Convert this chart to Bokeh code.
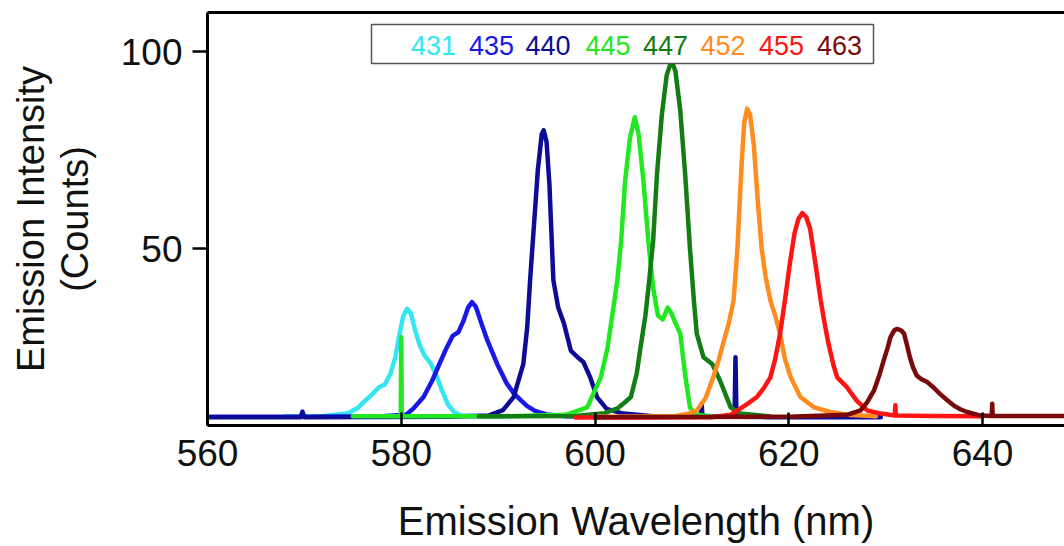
from bokeh.plotting import figure
from bokeh.models import Range1d, LinearAxis, FixedTicker
from bokeh.core.properties import value
from bokeh.embed import file_html
from bokeh.resources import INLINE

# ---------------- data ----------------
labels = ["431", "435", "440", "445", "447", "452", "455", "463"]
colors = ["#33E6F2", "#1818E8", "#0C0C96", "#22E822", "#137D13", "#FF8C1E", "#FF1414", "#7A0A0A"]

x431 = [568, 572, 574.5, 575.5, 576.2, 577.0, 577.7, 578.3, 578.9, 579.4, 579.8, 580.2, 580.6, 581.0,
        581.4, 581.9, 582.4, 583.0, 583.6, 584.2, 584.8, 585.4, 586.2, 588, 591]
y431 = [7.4, 7.5, 8.2, 9.5, 11.2, 13.0, 14.8, 15.5, 18.3, 22.5, 28.0, 32.8, 34.7, 33.5,
        29.5, 25.5, 22.8, 21.0, 18.0, 14.0, 10.5, 8.6, 7.6, 7.4, 7.4]

x435 = [560, 570, 578, 580.5, 581.3, 582.3, 583.2, 583.9, 584.7, 585.3, 585.9, 586.4, 586.9, 587.3,
        587.7, 588.2, 588.9, 589.9, 590.9, 591.6, 592.3, 593.0, 593.8, 595.0, 597, 600]
y435 = [7.3, 7.3, 7.4, 7.8, 9.5, 12.3, 16.5, 20.5, 24.9, 27.8, 28.8, 31.5, 35.0, 36.4,
        35.2, 31.5, 26.6, 20.7, 15.7, 13.3, 11.6, 10.0, 8.8, 7.9, 7.4, 7.3]

x440 = [560, 569.6, 569.8, 570.0, 585, 589, 590.5, 591.6, 592.6, 593.0, 593.3, 593.7, 594.1, 594.5,
        594.7, 595.0, 595.3, 595.7, 596.2, 596.8, 597.5, 598.2, 598.8, 599.5, 600.2, 601.2, 602.9,
        606, 610.9, 611.0, 611.1, 614.4, 614.5, 614.6, 618, 629.5]
y440 = [7.2, 7.2, 8.6, 7.2, 7.3, 7.6, 9.0, 12.3, 20.7, 30.0, 42.0, 56.0, 70.0, 79.0,
        80.0, 77.0, 66.0, 42.0, 35.0, 30.9, 24.1, 22.4, 21.2, 17.3, 12.3, 9.3, 8.1,
        7.4, 7.3, 10.6, 7.3, 7.3, 22.4, 7.3, 7.2, 7.2]

x445 = [575, 579.95, 580.0, 580.05, 590, 597, 599.2, 600.6, 601.3, 601.8, 602.3, 602.7, 603.1, 603.6,
        604.1, 604.5, 605.0, 605.5, 606.0, 606.5, 607.0, 607.5, 607.9, 608.4, 608.8, 609.3, 609.8,
        610.5, 612]
y445 = [7.4, 7.4, 27.5, 7.4, 7.4, 7.8, 9.7, 17.3, 24.9, 33.4, 41.9, 52.0, 67.0, 78.0,
        83.3, 79.0, 67.0, 52.0, 40.0, 33.0, 32.0, 35.0, 33.5, 30.5, 28.4, 18.0, 9.6,
        7.8, 7.4]

x447 = [588, 598, 601, 602.3, 603.0, 603.7, 604.3, 604.7, 605.2, 605.6, 606.0, 606.4, 606.9, 607.4,
        607.8, 608.0, 608.3, 608.8, 609.3, 609.8, 610.2, 610.5, 611.2, 612.1, 612.9, 614.0, 615, 618]
y447 = [7.4, 7.5, 8.2, 9.4, 10.8, 12.3, 18.2, 24.9, 33.0, 42.0, 52.0, 69.0, 84.0, 94.0,
        97.0, 97.0, 95.0, 85.0, 69.0, 50.0, 37.0, 28.4, 22.4, 20.7, 16.5, 9.7, 8.1, 7.4]

x452 = [600, 608, 609.5, 610.5, 611.4, 612.2, 612.8, 613.3, 613.8, 614.3, 614.7, 615.1, 615.4, 615.7,
        616.0, 616.4, 616.8, 617.2, 617.6, 618.1, 618.6, 619.1, 619.6, 620.2, 621.2, 622.6, 624.3,
        626, 629]
y452 = [7.3, 7.4, 8.0, 8.9, 12.0, 17.3, 22.0, 26.6, 31.0, 36.8, 50.0, 70.0, 82.0, 85.5,
        84.0, 76.0, 62.0, 50.0, 43.0, 36.8, 33.0, 28.4, 22.0, 17.3, 12.3, 9.7, 8.5,
        7.8, 7.4]

x455 = [598, 612, 614.0, 614.7, 615.7, 616.7, 617.4, 618.1, 618.6, 619.1, 619.6, 620.1, 620.6, 621.0,
        621.4, 621.8, 622.2, 622.7, 623.3, 623.7, 624.1, 624.6, 625.0, 626.0, 627.0, 628.1, 629.5,
        630.95, 631.0, 631.05, 635, 640]
y455 = [7.1, 7.2, 7.8, 8.9, 10.5, 12.3, 14.5, 17.3, 22.0, 28.4, 36.8, 46.0, 54.0, 57.5,
        59.0, 58.0, 55.0, 47.0, 36.8, 31.0, 25.8, 20.5, 17.3, 14.8, 11.4, 8.9, 8.1,
        7.6, 10.2, 7.6, 7.5, 7.4]

x463 = [600, 620, 626.0, 627.4, 628.1, 628.8, 629.3, 629.8, 630.2, 630.5, 630.9, 631.2, 631.6, 631.9,
        632.2, 632.5, 632.8, 633.2, 633.7, 634.3, 635.0, 635.6, 636.3, 637.0, 637.7, 638.4, 639.8,
        640.95, 641.0, 641.05, 645, 650]
y463 = [7.2, 7.3, 7.8, 8.9, 11.0, 14.0, 17.5, 21.6, 24.8, 27.5, 29.3, 29.6, 29.2, 28.4,
        25.5, 22.4, 20.0, 17.8, 16.8, 16.1, 14.6, 13.1, 11.6, 10.2, 9.2, 8.5, 7.6,
        7.5, 10.6, 7.5, 7.5, 7.5]

xs = [x431, x435, x440, x445, x447, x452, x455, x463]
ys = [y431, y435, y440, y445, y447, y452, y455, y463]

x_ticks = [560, 580, 600, 620, 640, 660]
y_ticks = [50, 100]

# ---------------- figure ----------------
X0, X1 = 560.0, 648.46
Y0, Y1 = 5.08, 109.9
FONT = "Liberation Sans"

p = figure(width=1064, height=546, output_backend="svg", toolbar_location=None,
           x_range=Range1d(X0, X1), y_range=Range1d(Y0, Y1),
           min_border_left=207, min_border_right=0, min_border_top=12, min_border_bottom=121)
p.outline_line_color = None
p.grid.visible = False
p.background_fill_color = "white"
p.border_fill_color = "white"

for x, y, c in zip(xs, ys, colors):
    p.line(x, y, line_color=c, line_width=4.5, line_join="round", line_cap="round")

# axes
for ax in (p.xaxis[0], p.yaxis[0]):
    ax.axis_line_width = 3
    ax.axis_line_color = "black"
    ax.major_tick_line_width = 2.5
    ax.major_tick_line_color = "black"
    ax.minor_tick_line_color = None
    ax.major_label_text_font = FONT
    ax.major_label_text_color = "#111111"
    ax.axis_label_text_font = FONT
    ax.axis_label_text_font_style = "normal"
    ax.axis_label_text_color = "#111111"

xa = p.xaxis[0]
xa.ticker = FixedTicker(ticks=x_ticks)
xa.major_tick_in = 13
xa.major_tick_out = 0
xa.major_label_text_font_size = "37px"
xa.major_label_standoff = 14
xa.axis_label = "Emission Wavelength (nm)"
xa.axis_label_text_font_size = "40px"
xa.axis_label_text_line_height = 1.0
xa.axis_label_standoff = 30

ya = p.yaxis[0]
ya.ticker = FixedTicker(ticks=y_ticks)
ya.major_tick_in = 0
ya.major_tick_out = 15
ya.major_label_text_font_size = "37px"
ya.major_label_standoff = 10
ya.axis_label = "Emission Intensity\n(Counts)"
ya.axis_label_text_font_size = "38px"
ya.axis_label_text_line_height = 1.05
ya.axis_label_standoff = 22

top = LinearAxis(axis_line_width=3, axis_line_color="black",
                 major_tick_line_color=None, minor_tick_line_color=None,
                 major_label_text_font_size="0px", major_label_standoff=0)
top.ticker = FixedTicker(ticks=[])
p.add_layout(top, "above")

# legend box (text-only entries, coloured like the curves)
FL, FT, FW, FH = 207, 12, 857, 413
def px2x(px):
    return X0 + (px - FL) * (X1 - X0) / FW
def py2y(py):
    return Y1 - (py - FT) * (Y1 - Y0) / FH

p.quad(left=[px2x(371)], right=[px2x(873)], top=[py2y(24)], bottom=[py2y(63)],
       fill_color="white", line_color="#555555", line_width=1.5)
leg_cx = [433, 491, 547.5, 607.5, 665, 722.5, 781, 839]
p.text(x=[px2x(c) for c in leg_cx], y=[py2y(45)] * len(labels), text=labels,
       text_color=colors, text_font=value(FONT), text_font_size="27px",
       text_align="center", text_baseline="middle")

open("out.html", "w").write(file_html(p, INLINE))
